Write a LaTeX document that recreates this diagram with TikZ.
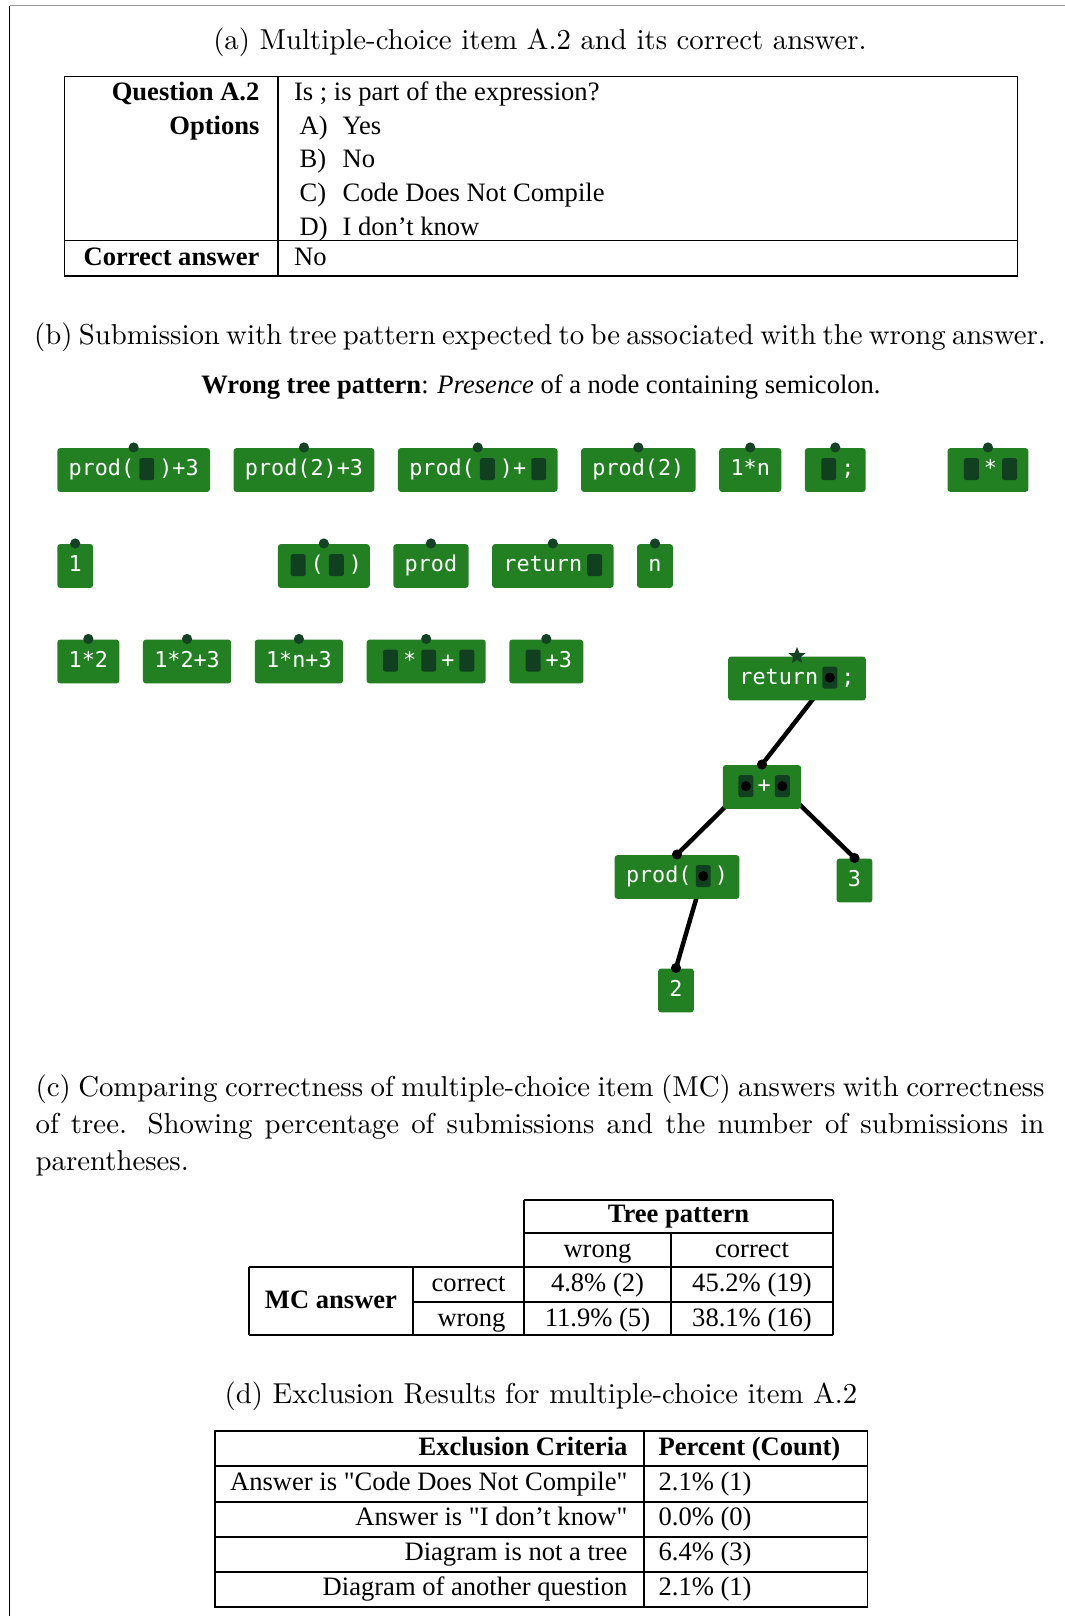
\documentclass[tikz,border=0pt]{standalone}
\usepackage{fontspec}
\usepackage{tikz}
\usetikzlibrary{positioning,calc,shapes.geometric,backgrounds}

\newfontfamily\tabfont{Liberation Serif}
\newfontfamily\codefont{DejaVu Sans Mono}

\definecolor{blockgreen}{RGB}{34,128,34}
\definecolor{holegreen}{RGB}{17,64,32}
\definecolor{pingreen}{RGB}{20,66,36}

% empty slot of a block
\newcommand{\hole}{\hspace{1.7pt}\tikz[baseline=0pt]\fill[holegreen,rounded corners=0.7pt] (0pt,-1.4pt) rectangle (5pt,5.9pt);\hspace{1.7pt}}
% slot with a child plugged in
\newcommand{\plugged}{\hspace{1.4pt}\tikz[baseline=0pt]{\fill[holegreen,rounded corners=0.7pt] (0pt,-1.4pt) rectangle (5pt,5.9pt);\fill[black] (2.5pt,2.25pt) circle (1.7pt);}\hspace{1.4pt}}

\tikzset{
  blk/.style={fill=blockgreen,rounded corners=1pt,text=white,
    font=\codefont\fontsize{7.3}{8}\selectfont,minimum height=14.7pt,
    inner xsep=3.8pt,inner ysep=0pt,text height=5.4pt,text depth=1.5pt},
  captext/.style={font=\fontsize{9.65}{12.4}\selectfont,inner sep=0pt},
  tab/.style={font=\tabfont\fontsize{8.9}{10.7}\selectfont,inner sep=0pt},
  tabline/.style={line width=0.5pt},
  link/.style={line width=1.5pt,black},
}

\begin{document}
\begin{tikzpicture}[x=0.335pt,y=-0.335pt,node distance=7.5pt]
\useasboundingbox (0,0) rectangle (1065,1616);
% frame of the page
\draw[gray!80,line width=0.35pt] (9.5,5.5) -- (1065,5.5);
\draw[line width=0.4pt] (9.5,5.5) -- (9.5,1616);

% (a) the question
\node[captext,anchor=base] (capa) at (540,49) {(a) Multiple-choice item A.2 and its correct answer.};
\draw[tabline] (64.5,76.5) rectangle (1017.5,276);
\draw[tabline] (64.5,240.5) -- (1017.5,240.5);
\draw[tabline] (278,76.5) -- (278,276);
\node[tab,anchor=base east] (qhead) at (260,100) {\bfseries Question A.2};
\node[tab,anchor=base east] (ohead) at (260,134) {\bfseries Options};
\node[tab,anchor=base east] (ahead) at (260,265) {\bfseries Correct answer};
\node[tab,anchor=base west] (qtext) at (293.5,100) {Is ; is part of the expression?};
\foreach \l/\t [count=\i from 0] in {A/Yes,B/No,C/Code Does Not Compile,D/I don’t know}{
  \node[tab,anchor=base west] (olab\l) at (299,134+33.7*\i) {\l)};
  \node[tab,anchor=base west] (otext\l) at (342,134+33.7*\i) {\t};
}
\node[tab,anchor=base west] (atext) at (293.5,265) {No};

% (b) block palette and the submitted tree
\node[captext,anchor=base] (capb) at (540,344) {\spaceskip=2.1pt plus 1pt minus 0.5pt(b) Submission with tree pattern expected to be associated with the wrong answer.};
\node[tab,anchor=base] (pattern) at (541,393) {\textbf{Wrong tree pattern}: \textit{Presence} of a node containing semicolon.};

\node[blk,anchor=west] (r1a) at (56.7,470) {prod(\hole)+3};
\node[blk,right=of r1a] (r1b) {prod(2)+3};
\node[blk,right=of r1b] (r1c) {prod(\hole)+\hole};
\node[blk,right=of r1c] (r1d) {prod(2)};
\node[blk,right=of r1d] (r1e) {1*n};
\node[blk,right=of r1e] (r1f) {\hole;};
\node[blk,right=27pt of r1f] (r1g) {\hole*\hole};

\node[blk,anchor=west] (r2a) at (56.7,566) {1};
\node[blk,right=61.5pt of r2a,inner xsep=2.6pt] (r2b) {\hole(\hole)};
\node[blk,right=of r2b] (r2c) {prod};
\node[blk,right=of r2c] (r2d) {return\hole};
\node[blk,right=of r2d] (r2e) {n};

\node[blk,anchor=west] (r3a) at (56.7,661.5) {1*2};
\node[blk,right=of r3a] (r3b) {1*2+3};
\node[blk,right=of r3b] (r3c) {1*n+3};
\node[blk,right=of r3c] (r3d) {\hole*\hole+\hole};
\node[blk,right=of r3d] (r3e) {\hole+3};

\foreach \n in {r1a,r1b,r1c,r1d,r1e,r1f,r1g,r2a,r2b,r2c,r2d,r2e,r3a,r3b,r3c,r3d,r3e}
  \fill[pingreen] (\n.north) circle (1.7pt);

% tree
\node[blk] (ret) at (797,678.5) {return\plugged;};
\node[blk] (plus) at (762,787) {\plugged+\plugged};
\node[blk] (call) at (677,877) {prod(\plugged)};
\node[blk] (three) at (854.5,880.5) {3};
\node[blk] (two) at (676,990.5) {2};
\node[star,star points=5,star point ratio=2.3,fill=pingreen,minimum size=6pt,inner sep=0pt] (root) at (ret.north) {};

\coordinate (ret-h) at ($(ret.west)+(101.6,0)$);
\coordinate (plus-l) at ($(plus.west)+(23,0)$);
\coordinate (plus-r) at ($(plus.west)+(59.4,0)$);
\coordinate (call-h) at ($(call.west)+(88.5,0)$);
\begin{scope}[on background layer]
  \draw[link] (ret-h) -- (plus.north);
  \draw[link] (plus-l) -- (call.north);
  \draw[link] (plus-r) -- (three.north);
  \draw[link] (call-h) -- (two.north);
\end{scope}
\foreach \n in {plus,call,three,two}
  \fill (\n.north) circle (1.7pt);

% (c) answers against tree pattern
\node[captext,anchor=north west,text width=338pt,align=justify] (capc) at (35,1070) {\hyphenpenalty=10000\strut(c) Comparing correctness of multiple-choice item (MC) answers with correctness\linebreak of tree. Showing percentage of submissions and the number of submissions in\linebreak parentheses.};
\draw[tabline] (524,1200) -- (833,1200);
\draw[tabline] (524,1233) -- (833,1233);
\draw[tabline] (249,1267) -- (833,1267);
\draw[tabline] (413,1302) -- (833,1302);
\draw[tabline] (249,1335) -- (833,1335);
\draw[tabline] (524,1200) -- (524,1335);
\draw[tabline] (833,1200) -- (833,1335);
\draw[tabline] (671,1233) -- (671,1335);
\draw[tabline] (249,1267) -- (249,1335);
\draw[tabline] (413,1267) -- (413,1335);
\node[tab,anchor=base] (tphead) at (678.5,1222) {\bfseries Tree pattern};
\node[tab,anchor=base] (tpwrong) at (597.5,1257) {wrong};
\node[tab,anchor=base] (tpright) at (752,1257) {correct};
\node[tab,anchor=base] (mchead) at (331,1308) {\bfseries MC answer};
\node[tab,anchor=base east] (mcright) at (506,1291) {correct};
\node[tab,anchor=base east] (mcwrong) at (506,1326) {wrong};
\node[tab,anchor=base] (c11) at (597.5,1291) {4.8\% (2)};
\node[tab,anchor=base] (c12) at (752,1291) {45.2\% (19)};
\node[tab,anchor=base] (c21) at (597.5,1326) {11.9\% (5)};
\node[tab,anchor=base] (c22) at (752,1326) {38.1\% (16)};

% (d) excluded submissions
\node[captext,anchor=base] (capd) at (541,1403) {(d) Exclusion Results for multiple-choice item A.2};
\draw[tabline] (215,1431) rectangle (867.5,1607);
\foreach \y in {1466,1502,1537,1572}
  \draw[tabline] (215,\y) -- (867.5,\y);
\draw[tabline] (644,1431) -- (644,1607);
\node[tab,anchor=base east] (exhead) at (628,1455) {\bfseries Exclusion Criteria};
\node[tab,anchor=base west] (pchead) at (658,1455) {\bfseries Percent (Count)};
\foreach \c/\p [count=\i from 0] in {Answer is "Code Does Not Compile"/2.1\% (1),Answer is "I don’t know"/0.0\% (0),Diagram is not a tree/6.4\% (3),Diagram of another question/2.1\% (1)}{
  \node[tab,anchor=base east] (excrit\i) at (628,1490+35.3*\i) {\c};
  \node[tab,anchor=base west] (expct\i) at (658,1490+35.3*\i) {\p};
}
\end{tikzpicture}
\end{document}
